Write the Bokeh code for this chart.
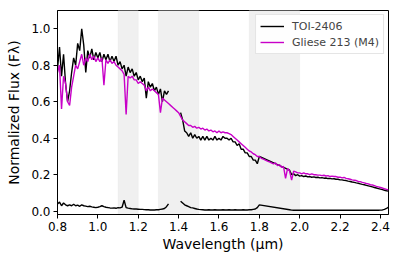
import numpy as np
from bokeh.plotting import figure
from bokeh.models import BoxAnnotation, FixedTicker, Legend, LegendItem, Range1d
from bokeh.embed import file_html
from bokeh.resources import INLINE

# ---------------- data ----------------
band_starts = [1.10, 1.30, 1.75]
band_ends = [1.20, 1.50, 2.00]

x_ticks = [0.8, 1.0, 1.2, 1.4, 1.6, 1.8, 2.0, 2.2, 2.4]
y_ticks = [0.0, 0.2, 0.4, 0.6, 0.8, 1.0]

# TOI-2406 segment A: 0.80 - 1.35 um (step 0.01)
toi_wave_a = np.round(np.arange(0.80, 1.355, 0.01), 2)
toi_flux_a = [0.78, 0.90, 0.74, 0.86, 0.70, 0.60, 0.66, 0.76, 0.84, 0.80,
              0.92, 0.88, 1.00, 0.91, 0.76, 0.88, 0.84, 0.89, 0.83, 0.87,
              0.84, 0.87, 0.82, 0.86, 0.83, 0.86, 0.82, 0.85, 0.82, 0.85,
              0.80, 0.82, 0.78, 0.80, 0.74, 0.79, 0.76, 0.78, 0.74, 0.76,
              0.72, 0.74, 0.71, 0.73, 0.62, 0.71, 0.68, 0.70, 0.66, 0.68,
              0.64, 0.67, 0.60, 0.66, 0.64, 0.66]
toi_err_a = [0.040, 0.050, 0.030, 0.045, 0.035, 0.030, 0.035, 0.030, 0.038, 0.030,
             0.033, 0.027, 0.035, 0.030, 0.028, 0.025, 0.027, 0.024, 0.022, 0.020,
             0.022, 0.025, 0.030, 0.025, 0.022, 0.020, 0.018, 0.017, 0.018, 0.016,
             0.020, 0.018, 0.022, 0.060, 0.020, 0.017, 0.015, 0.013, 0.012, 0.012,
             0.011, 0.010, 0.010, 0.009, 0.008, 0.008, 0.007, 0.007, 0.007, 0.008,
             0.008, 0.010, 0.012, 0.015, 0.025, 0.040]

# TOI-2406 segment B: 1.41 - 1.80 um (step 0.01)
toi_wave_b = np.round(np.arange(1.41, 1.805, 0.01), 2)
toi_flux_b = [0.54, 0.50, 0.44, 0.43, 0.41, 0.43, 0.40, 0.42, 0.40, 0.41,
              0.39, 0.41, 0.39, 0.41, 0.39, 0.40, 0.39, 0.41, 0.39, 0.40,
              0.39, 0.41, 0.40, 0.40, 0.39, 0.40, 0.38, 0.38, 0.36, 0.37,
              0.34, 0.34, 0.32, 0.32, 0.30, 0.30, 0.28, 0.28, 0.26, 0.30]
toi_err_b = [0.055, 0.045, 0.035, 0.030, 0.025, 0.020, 0.018, 0.015, 0.012, 0.010,
             0.009, 0.008, 0.007, 0.007, 0.008, 0.007, 0.007, 0.008, 0.007, 0.007,
             0.007, 0.008, 0.007, 0.007, 0.008, 0.007, 0.007, 0.008, 0.007, 0.007,
             0.007, 0.008, 0.007, 0.007, 0.008, 0.008, 0.010, 0.012, 0.020, 0.035]

# TOI-2406 segment C: 1.95 - 2.44 um (step 0.01)
toi_wave_c = np.round(np.arange(1.95, 2.445, 0.01), 2)
toi_flux_c = [0.225, 0.200, 0.205, 0.195, 0.200, 0.192, 0.195, 0.190, 0.193, 0.188,
              0.190, 0.186, 0.188, 0.185, 0.186, 0.183, 0.184, 0.181, 0.182, 0.179,
              0.180, 0.177, 0.178, 0.175, 0.175, 0.172, 0.172, 0.169, 0.168, 0.165,
              0.163, 0.160, 0.158, 0.155, 0.153, 0.150, 0.147, 0.145, 0.142, 0.139,
              0.136, 0.133, 0.130, 0.127, 0.124, 0.121, 0.118, 0.115, 0.112, 0.110]
toi_err_c = [0.008, 0.006, 0.005, 0.005, 0.006, 0.005, 0.005, 0.005, 0.006, 0.005,
             0.005, 0.005, 0.006, 0.005, 0.005, 0.005, 0.005, 0.006, 0.005, 0.005,
             0.005, 0.005, 0.006, 0.005, 0.005, 0.005, 0.005, 0.006, 0.005, 0.005,
             0.005, 0.005, 0.006, 0.005, 0.005, 0.005, 0.005, 0.006, 0.005, 0.005,
             0.005, 0.005, 0.006, 0.005, 0.005, 0.006, 0.007, 0.010, 0.015, 0.022]

# Gliese 213 (M4): 0.80 - 2.44 um (step 0.01)
gl_wave = np.round(np.arange(0.80, 2.445, 0.01), 2)
gl_flux = [0.76, 0.80, 0.56, 0.74, 0.70, 0.60, 0.58, 0.68, 0.74, 0.80,
           0.78, 0.82, 0.86, 0.80, 0.84, 0.82, 0.86, 0.83, 0.85, 0.82,
           0.84, 0.82, 0.84, 0.69, 0.83, 0.81, 0.83, 0.81, 0.82, 0.80,
           0.79, 0.78, 0.77, 0.75, 0.53, 0.74, 0.73, 0.74, 0.72, 0.72,
           0.70, 0.71, 0.70, 0.69, 0.66, 0.68, 0.66, 0.67, 0.66, 0.65,
           0.64, 0.54, 0.62, 0.61, 0.60, 0.59, 0.58, 0.57, 0.56, 0.55,
           0.54, 0.52, 0.50, 0.49, 0.48, 0.47, 0.47, 0.46, 0.465, 0.455,
           0.46, 0.45, 0.455, 0.445, 0.45, 0.44, 0.445, 0.435, 0.44, 0.43,
           0.44, 0.43, 0.435, 0.43, 0.43, 0.425, 0.42, 0.41, 0.40, 0.39,
           0.38, 0.37, 0.36, 0.35, 0.34, 0.33, 0.325, 0.315, 0.31, 0.30,
           0.30, 0.29, 0.285, 0.28, 0.275, 0.27, 0.265, 0.26, 0.265, 0.25,
           0.255, 0.24, 0.245, 0.18, 0.235, 0.22, 0.17, 0.22, 0.215, 0.21,
           0.21, 0.205, 0.21, 0.205, 0.205, 0.20, 0.205, 0.20, 0.20, 0.198,
           0.198, 0.195, 0.197, 0.193, 0.195, 0.19, 0.192, 0.19, 0.19, 0.186,
           0.187, 0.183, 0.185, 0.18, 0.178, 0.175, 0.172, 0.17, 0.168, 0.163,
           0.162, 0.158, 0.155, 0.152, 0.15, 0.145, 0.144, 0.14, 0.136, 0.133,
           0.13, 0.127, 0.123, 0.12, 0.117]

# join TOI segments: a NaN break in the 1.35-1.41 gap, B and C joined directly
toi_wave = list(toi_wave_a) + [1.38] + list(toi_wave_b) + list(toi_wave_c)
toi_flux = toi_flux_a + [float("nan")] + toi_flux_b + toi_flux_c
toi_err = toi_err_a + [float("nan")] + toi_err_b + toi_err_c

MAG = "#c800c8"
FONT = "DejaVu Sans"

p = figure(width=391, height=258, output_backend="svg", toolbar_location=None,
           x_range=Range1d(0.8, 2.44), y_range=Range1d(-0.018, 1.10),
           min_border_left=57, min_border_right=3, min_border_top=10,
           min_border_bottom=44)
p.background_fill_color = "white"
p.border_fill_color = "white"
p.outline_line_color = "black"
p.outline_line_width = 1
p.xgrid.visible = False
p.ygrid.visible = False

for s, e in zip(band_starts, band_ends):
    p.add_layout(BoxAnnotation(left=s, right=e, fill_color="#f0f0f0", fill_alpha=1.0,
                               line_color="#e4e4e4", line_width=1, level="underlay"))

r_toi = p.line(toi_wave, toi_flux, line_color="black", line_width=1.4)
p.line(toi_wave, toi_err, line_color="black", line_width=1.4)
r_gl = p.line(list(gl_wave), gl_flux, line_color=MAG, line_width=1.4)

legend = Legend(items=[LegendItem(label="TOI-2406", renderers=[r_toi]),
                       LegendItem(label="Gliese 213 (M4)", renderers=[r_gl])],
                location="top_right")
legend.label_text_font = FONT
legend.label_text_font_size = "11px"
legend.border_line_color = "#cccccc"
legend.border_line_width = 1
legend.background_fill_alpha = 0.9
legend.glyph_width = 24
legend.glyph_height = 14
legend.label_height = 14
legend.spacing = 2
legend.padding = 4
legend.margin = 4
legend.label_standoff = 8
p.add_layout(legend)

for ax in (p.xaxis[0], p.yaxis[0]):
    ax.axis_line_color = "black"
    ax.major_tick_line_color = "black"
    ax.major_tick_out = 4
    ax.major_tick_in = 0
    ax.minor_tick_line_color = None
    ax.major_label_text_font = FONT
    ax.major_label_text_font_size = "12px"
    ax.major_label_text_color = "black"
    ax.axis_label_text_font = FONT
    ax.axis_label_text_font_size = "14px"
    ax.axis_label_text_font_style = "normal"
    ax.axis_label_text_color = "black"

p.xaxis.ticker = FixedTicker(ticks=x_ticks)
p.yaxis.ticker = FixedTicker(ticks=y_ticks)
p.xaxis.major_label_overrides = {t: f"{t:.1f}" for t in x_ticks}
p.yaxis.major_label_overrides = {t: f"{t:.1f}" for t in y_ticks}
p.xaxis.axis_label = "Wavelength (μm)"
p.yaxis.axis_label = "Normalized Flux (Fλ)"
p.xaxis.axis_label_standoff = 2
p.yaxis.axis_label_standoff = 6
p.xaxis.major_label_standoff = 3
p.yaxis.major_label_standoff = 3

open("out.html", "w").write(file_html(p, INLINE))
